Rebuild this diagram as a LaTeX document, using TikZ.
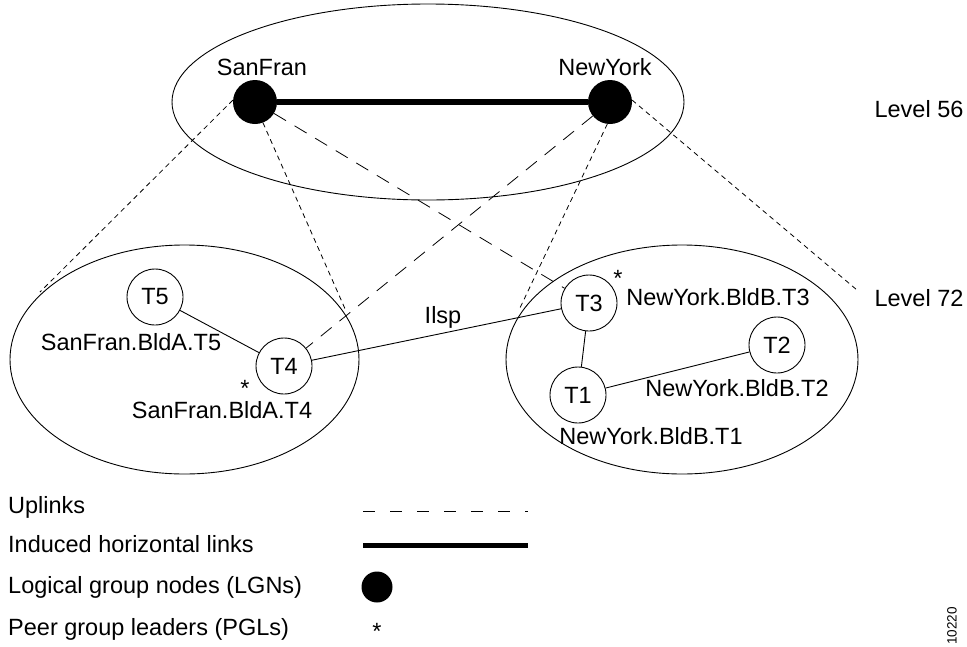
\documentclass[tikz,border=0pt]{standalone}
\usepackage{fontspec}
\setmainfont{Liberation Sans}
\begin{document}
\begin{tikzpicture}[x=1pt,y=-1pt,
  every node/.style={font=\fontsize{23.5}{28}\selectfont, inner sep=0pt},
  thin line/.style={line width=0.9pt},
  lgn/.style={circle, fill=black, minimum size=44pt},
  tnode/.style={circle, draw, line width=0.9pt, minimum size=56pt},
  finedash/.style={line width=0.8pt, dash pattern=on 5pt off 4pt},
  longdash/.style={line width=0.8pt, dash pattern=on 14pt off 10pt},
  induced/.style={line width=6pt},
  lbl/.style={anchor=center},
  legend/.style={anchor=base west}
]
\useasboundingbox (0,0) rectangle (967,646);

% peer group ellipses
\draw[thin line] (428,102) ellipse (256 and 98);
\draw[thin line] (184.5,359.5) ellipse (174.5 and 114.5);
\draw[thin line] (682,359.5) ellipse (176 and 114.5);

% LGNs
\node[lgn] (sf) at (255,102) {};
\node[lgn] (ny) at (610,102) {};
\node[lbl] (sflbl) at (262,67) {SanFran};
\node[lbl] (nylbl) at (605,67) {NewYork};
\draw[induced] (sf) -- (ny);

% lowest level nodes
\node[tnode] (t5) at (155,297) {T5};
\node[tnode] (t4) at (284,366) {T4};
\node[tnode] (t3) at (589,303) {T3};
\node[tnode] (t2) at (777,345) {T2};
\node[tnode] (t1) at (578,395) {T1};

\node[lbl] (t5lbl) at (131,342) {SanFran.BldA.T5};
\node[lbl] (t4lbl) at (222,410) {SanFran.BldA.T4};
\node[lbl] (t3lbl) at (718,297) {NewYork.BldB.T3};
\node[lbl] (t2lbl) at (737,388) {NewYork.BldB.T2};
\node[lbl] (t1lbl) at (651,436) {NewYork.BldB.T1};

\node[lbl] (t4star) at (245,388) {*};
\node[lbl] (t3star) at (618,278) {*};

\draw[thin line] (t5) -- (t4);
\draw[thin line] (t4) -- (t3);
\draw[thin line] (t3) -- (t1);
\draw[thin line] (t1) -- (t2);
\node[anchor=base] (ilsp) at (443,323) {Ilsp};

% uplinks
\draw[longdash] (sf) -- (t3);
\draw[longdash] (ny) -- (t4);

\coordinate (la) at (40,292);
\coordinate (lb) at (346,311);
\coordinate (ra) at (519,310);
\coordinate (rb) at (857,290);
\draw[finedash] (sf.175) -- (la);
\draw[finedash] (sf.291) -- (lb);
\draw[finedash] (ny.263) -- (ra);
\draw[finedash] (ny.5) -- (rb);

% levels
\node[lbl] (lv56) at (919,109) {Level 56};
\node[lbl] (lv72) at (919,298) {Level 72};

% legend
\node[legend] (lg1) at (8,513) {Uplinks};
\node[legend] (lg2) at (8,552) {Induced horizontal links};
\node[legend] (lg3) at (8,593) {Logical group nodes (LGNs)};
\node[legend] (lg4) at (8,635) {Peer group leaders (PGLs)};

\coordinate (d1) at (363,511);
\coordinate (d2) at (528,511);
\draw[line width=0.8pt, dash pattern=on 12pt off 15pt] (d1) -- (d2);
\coordinate (h1) at (363,545);
\coordinate (h2) at (528,545);
\draw[line width=5pt] (h1) -- (h2);
\node[circle, fill=black, minimum width=29pt, minimum height=31pt] (lgsym) at (377,587) {};
\node[lbl] (pglsym) at (377,631) {*};

\node[rotate=90, font=\fontsize{13.5}{15}\selectfont] (fig) at (952,626) {10220};
\end{tikzpicture}
\end{document}
